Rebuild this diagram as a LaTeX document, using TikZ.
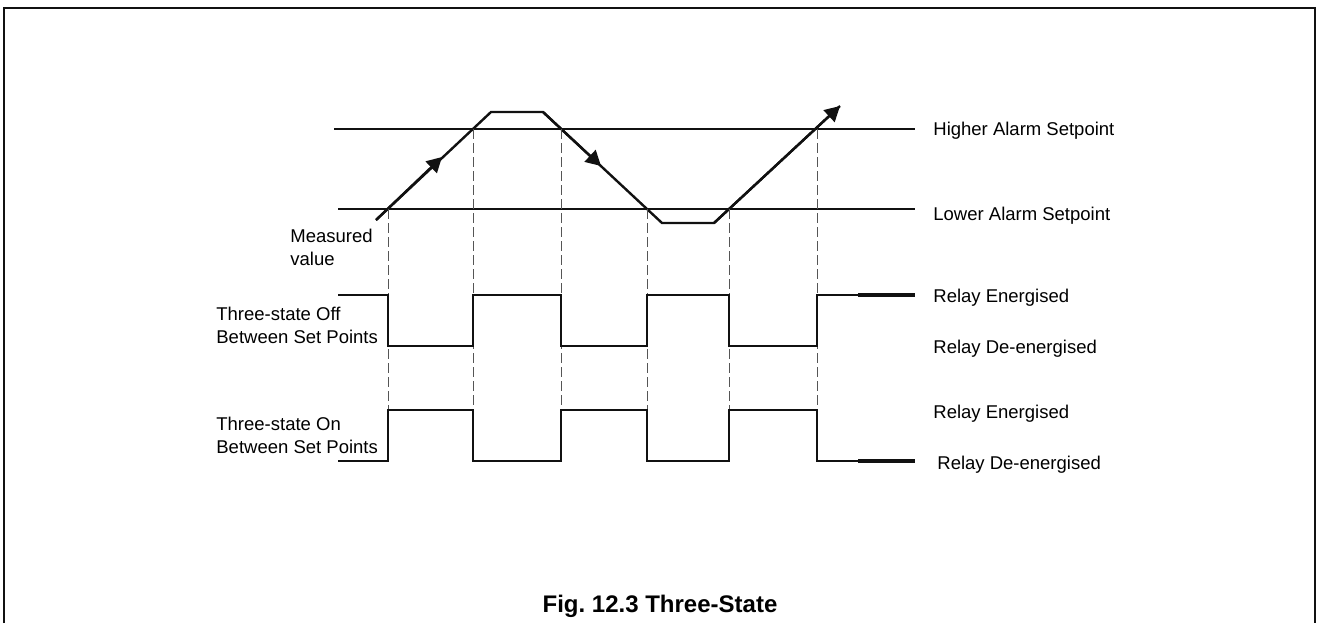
\documentclass[tikz,border=0pt]{standalone}
\usepackage{fontspec}
\setmainfont{Liberation Sans}
\usetikzlibrary{arrows.meta}
\definecolor{FigureInk}{HTML}{111111}
\definecolor{FigureGrey}{HTML}{555555}

\begin{document}
\begin{tikzpicture}[x=0.5pt,y=-0.5pt,line cap=butt,line join=miter,
  lbl/.style={anchor=base west,inner sep=0pt,font=\fontsize{9.25}{11.5}\selectfont},
  blk/.style={anchor=west,inner sep=0pt,align=left,font=\fontsize{9.25}{11.5}\selectfont},
  wave/.style={FigureInk,line width=1.3pt},
  trace/.style={FigureInk,line width=1.2pt},
  tip/.style={-{Triangle[length=7.5pt,width=8pt]}}]
  \useasboundingbox (0,0) rectangle (1317,623);
  \draw[FigureInk,line width=1.3pt] (4,623)--(4,8)--(1315,8)--(1315,623);
  % setpoints
  \coordinate (HiL) at (334,129);\coordinate (HiR) at (915,129);
  \coordinate (LoL) at (338,209);\coordinate (LoR) at (915,209);
  \draw[trace] (HiL)--(HiR);\draw[trace] (LoL)--(LoR);
  % measured value
  \coordinate (M0) at (376,220);\coordinate (A1) at (442,157);\coordinate (M1) at (491,112);
  \coordinate (M2) at (543,112);\coordinate (A2) at (601,166);\coordinate (M3) at (662,223);
  \coordinate (M4) at (714,223);\coordinate (M5) at (840,106);
  \draw[trace] (M0)--(M1)--(M2)--(M3)--(M4)--(M5);
  \draw[trace,tip] (M0)--(A1);\draw[trace,tip] (M2)--(A2);\draw[trace,tip] (M4)--(M5);
  % switching instants
  \foreach \x/\y in {388/209,473/129,561/129,647/209,729/209,817/129}
    \draw[FigureGrey,line width=0.45pt,dash pattern=on 5pt off 2pt] (\x,\y)--(\x,461);
  % relay traces
  \draw[wave] (338,295)-|(388,346)-|(473,295)-|(561,346)-|(647,295)-|(729,346)-|(817,295)--(858,295);
  \draw[FigureInk,line width=1.8pt] (858,295)--(915,295);
  \draw[wave] (338,461)-|(388,410)-|(473,461)-|(561,410)-|(647,461)-|(729,410)-|(817,461)--(858,461);
  \draw[FigureInk,line width=1.8pt] (858,461)--(915,461);
  % labels
  \node[lbl] (hi) at (933,135) {Higher Alarm Setpoint};
  \node[lbl] (lo) at (933,220) {Lower Alarm Setpoint};
  \node[blk] (meas) at (290,247) {Measured\\value};
  \node[blk] (off) at (216,325) {Three-state Off\\Between Set Points};
  \node[blk] (on) at (216,435) {Three-state On\\Between Set Points};
  \node[lbl] (e1) at (933,302) {Relay Energised};
  \node[lbl] (d1) at (933,353) {Relay De-energised};
  \node[lbl] (e2) at (933,418) {Relay Energised};
  \node[lbl] (d2) at (937,469) {Relay De-energised};
  \node[anchor=base,inner sep=0pt,font=\fontsize{12}{14}\selectfont\bfseries] (cap) at (660,612) {Fig.\ 12.3 Three-State};
\end{tikzpicture}
\end{document}
